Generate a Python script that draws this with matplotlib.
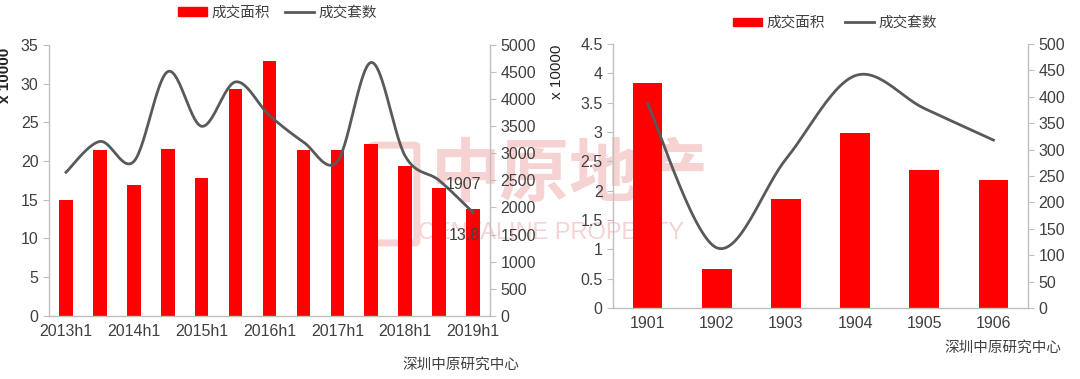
import numpy as np
import matplotlib
matplotlib.use("Agg")
import matplotlib.pyplot as plt
from matplotlib.patches import Patch, FancyBboxPatch
from matplotlib.lines import Line2D

# half-year data (left panel)
half_labels = ["2013h1", "2013h2", "2014h1", "2014h2", "2015h1", "2015h2", "2016h1",
               "2016h2", "2017h1", "2017h2", "2018h1", "2018h2", "2019h1"]
half_area = [15.0, 21.4, 16.9, 21.6, 17.8, 29.3, 33.0, 21.4, 21.4, 22.2, 19.3, 16.5, 13.8]
half_units = [2650, 3220, 2850, 4510, 3500, 4320, 3700, 3210, 2850, 4680, 2950, 2500, 1907]

# monthly data (right panel)
month_labels = ["1901", "1902", "1903", "1904", "1905", "1906"]
month_area = [3.84, 0.67, 1.86, 2.99, 2.35, 2.19]
month_units = [387, 114, 282, 440, 378, 318]

RED = "#ff0000"
GREY = "#595959"
SPINE = "#bfbfbf"
TXT = "#404040"
PINK = "#f6d2d2"

plt.rcParams['font.family'] = ['Liberation Sans', 'Noto Sans CJK SC']


def smooth(xs, ys, n=30):
    # Catmull-Rom curve through the points, like Excel's smoothed line
    pts = np.column_stack([xs, ys]).astype(float)
    out = []
    for i in range(len(pts) - 1):
        p0 = pts[i - 1] if i > 0 else pts[i]
        p1, p2 = pts[i], pts[i + 1]
        p3 = pts[i + 2] if i + 2 < len(pts) else pts[i + 1]
        t = np.linspace(0, 1, n)[:, None]
        seg = 0.5 * ((2 * p1) + (-p0 + p2) * t + (2 * p0 - 5 * p1 + 4 * p2 - p3) * t ** 2
                     + (-p0 + 3 * p1 - 3 * p2 + p3) * t ** 3)
        out.append(seg if i == 0 else seg[1:])
    out = np.vstack(out)
    return out[:, 0], out[:, 1]


def style(ax, ax2):
    for a in (ax, ax2):
        for s in a.spines.values():
            s.set_visible(False)
        a.tick_params(colors=TXT, labelsize=11.5, length=4, width=0.8)
        a.tick_params(axis='y', color=SPINE)
    ax.spines['left'].set_visible(True)
    ax.spines['bottom'].set_visible(True)
    ax2.spines['right'].set_visible(True)
    for s in (ax.spines['left'], ax.spines['bottom'], ax2.spines['right']):
        s.set_color(SPINE)
        s.set_linewidth(1.0)
    ax.tick_params(axis='x', length=0, pad=6)


fig = plt.figure(figsize=(10.8, 3.79), dpi=100)

# faint watermark, behind everything
fig.patches.append(FancyBboxPatch((0.347, 0.362), 0.036, 0.252, transform=fig.transFigure,
                                  boxstyle="round,pad=0.003", fc="none", ec=PINK, lw=5, zorder=-6))
fig.text(0.528, 0.533, "中原地产", ha='center', va='center', fontsize=50,
         color=PINK, fontweight='bold', zorder=-5)
fig.text(0.51, 0.385, "CENTALINE PROPERTY", ha='center', va='center', fontsize=17,
         color=PINK, zorder=-5)

# left panel
ax = fig.add_axes([0.0454, 0.167, 0.4083, 0.714])
ax2 = ax.twinx()
x = np.arange(len(half_labels))
ax.bar(x, half_area, width=0.4, color=RED, zorder=2)
sx, sy = smooth(x, half_units)
ax2.plot(sx, sy, color=GREY, lw=2, zorder=3)
ax.set_xlim(-0.5, len(x) - 0.5)
ax.set_ylim(0, 35)
ax.set_yticks(range(0, 36, 5))
ax2.set_ylim(0, 5000)
ax2.set_yticks(range(0, 5001, 500))
ax.set_xticks(x[::2])
ax.set_xticklabels(half_labels[::2])
style(ax, ax2)
ax.set_zorder(ax2.get_zorder() - 1)
ax.patch.set_visible(False)
ax2.patch.set_visible(False)
ax.set_ylabel("x 10000", fontsize=11, fontweight='bold', color="#222222")
ax.yaxis.set_label_coords(-0.083, 0.889)
ax2.annotate(f"{half_units[-1]}", (x[-1], half_units[-1]), xytext=(-7, 20),
             textcoords='offset points', ha='center', va='center', fontsize=11.5, color=TXT)
ax.annotate(f"{half_area[-1]}", (x[-1], half_area[-1]), xytext=(-6, -19),
            textcoords='offset points', ha='center', va='center', fontsize=11.5, color=TXT, zorder=5)

fig.legend(handles=[Patch(color=RED), Line2D([], [], color=GREY, lw=2)],
           labels=["成交面积", "成交套数"], loc='center', bbox_to_anchor=(0.257, 0.966),
           ncol=2, frameon=False, fontsize=10.5, handlelength=2.0, handleheight=0.55,
           handletextpad=0.3, columnspacing=1.0, labelcolor=TXT)
fig.text(0.481, 0.037, "深圳中原研究中心", ha='right', va='center', fontsize=10.5, color=TXT)

# right panel
bx = fig.add_axes([0.5676, 0.1873, 0.3843, 0.6966])
bx2 = bx.twinx()
m = np.arange(len(month_labels))
bx.bar(m, month_area, width=0.43, color=RED, zorder=2)
mx, my = smooth(m, month_units)
bx2.plot(mx, my, color=GREY, lw=2, zorder=3)
bx.set_xlim(-0.5, len(m) - 0.5)
bx.set_ylim(0, 4.5)
bx.set_yticks(np.arange(0, 4.51, 0.5))
bx.set_yticklabels(["0", "0.5", "1", "1.5", "2", "2.5", "3", "3.5", "4", "4.5"])
bx2.set_ylim(0, 500)
bx2.set_yticks(range(0, 501, 50))
bx.set_xticks(m)
bx.set_xticklabels(month_labels)
style(bx, bx2)
bx.set_zorder(bx2.get_zorder() - 1)
bx.patch.set_visible(False)
bx2.patch.set_visible(False)
bx.set_ylabel("x 10000", fontsize=11, color="#222222")
bx.yaxis.set_label_coords(-0.118, 0.894)

fig.legend(handles=[Patch(color=RED), Line2D([], [], color=GREY, lw=2)],
           labels=["成交面积", "成交套数"], loc='center', bbox_to_anchor=(0.773, 0.939),
           ncol=2, frameon=False, fontsize=10.5, handlelength=2.0, handleheight=0.55,
           handletextpad=0.3, columnspacing=1.4, labelcolor=TXT)
fig.text(0.983, 0.082, "深圳中原研究中心", ha='right', va='center', fontsize=10.5, color=TXT)

fig.savefig("out.png", dpi=100)
